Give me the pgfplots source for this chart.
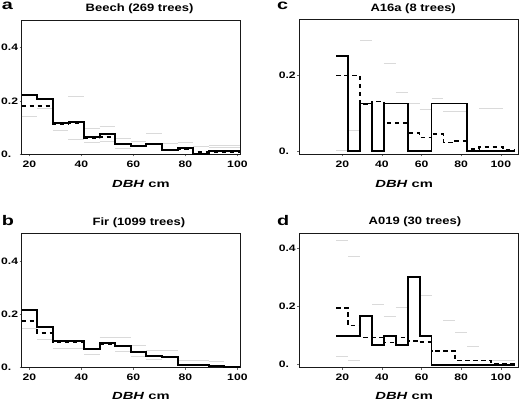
\documentclass[border=0pt]{standalone}
\usepackage{fontspec}
\setmainfont{Liberation Sans}[FakeStretch=1.3]
\newfontfamily\tickfont{Liberation Sans}[FakeStretch=1.3]
\newfontfamily\titlefont{Liberation Sans}[FakeStretch=1.22]
\newfontfamily\labfont{Liberation Sans}[FakeStretch=1.42]
\usepackage{pgfplots}
\pgfplotsset{compat=1.18}
\definecolor{bandgray}{RGB}{218,218,218}
\pgfplotsset{
  every axis title/.style={at={(0.5,1)}, anchor=base, yshift=8.3bp, inner sep=0pt,
    font=\titlefont\bfseries\fontsize{10.7}{12}\selectfont},
  panel/.style={
    scale only axis, anchor=south west,
    axis line style={black!90, line width=0.8bp},
    tick align=outside, major tick length=2bp,
    tick style={black!60, line width=0.5bp},
    xtick pos=bottom, ytick pos=left,
    xtick={20,40,60,80,100}, xticklabels={20,40,60,80,100},
    xticklabel style={font=\tickfont\bfseries\fontsize{9.4}{11}\selectfont, anchor=base, yshift=-11bp, inner sep=0pt},
    yticklabel style={font=\tickfont\bfseries\fontsize{9.4}{11}\selectfont, anchor=east, inner sep=0pt, xshift=-1.4bp},
    xlabel={\textit{DBH} cm},
    xlabel style={anchor=base, font=\labfont\bfseries\fontsize{10.4}{12}\selectfont, inner sep=0pt},
    clip=true,
  },
  solidh/.style={const plot, black, line width=1.9bp, line join=miter},
  dashh/.style={const plot, black, line width=1.6bp, dash pattern=on 4.5bp off 3.5bp},
  band/.style={bandgray, line width=0.9bp, unbounded coords=jump},
}
\begin{document}
\begin{tikzpicture}[x=1bp,y=1bp]
\useasboundingbox (0,0) rectangle (520,403);

% ---------- a: Beech ----------
\begin{axis}[panel, at={(21.7bp,248.7bp)}, width=218.3bp, height=134.3bp,
  xmin=17, xmax=101, ymin=0, ymax=0.504,
  ytick={0,0.2,0.4}, yticklabels={0.\phantom{0},0.2,0.4},
  title={Beech (269 trees)}, title style={at={(0.54,1)}},
  xlabel style={at={(0.546,0)}, yshift=-33bp}]
\addplot[band] coordinates {(17,0.143)(23,0.143)(23,nan)(23,0.172)(29,0.172)(29,nan)
 (29,0.091)(35,0.091)(35,nan)(35,0.216)(41,0.216)(41,nan)(35,0.054)(41,0.054)(41,nan)
 (41,0.097)(47,0.097)(47,nan)(41,0.045)(47,0.045)(47,nan)(47,0.103)(53,0.103)(53,nan)
 (47,0.047)(53,0.047)(53,nan)(53,0.060)(59,0.060)(59,nan)(53,0.022)(59,0.022)(59,nan)
 (59,0.050)(65,0.050)(65,nan)(59,0.028)(65,0.028)(65,nan)(65,0.079)(71,0.079)(71,nan)
 (71,0.040)(77,0.040)(77,nan)(77,0.045)(83,0.045)(83,nan)(83,0.030)(89,0.030)(89,nan)
 (89,0.035)(101,0.035)(101,nan)(89,0.026)(101,0.026)};
\addplot[dashh] coordinates {(17,0.182)(23,0.182)(29,0.114)(35,0.118)(41,0.062)(47,0.066)
 (53,0.0386)(59,0.0286)(65,0.037)(71,0.017)(77,0.019)(83,0.008)(89,0.008)(95,0.008)(101,0.008)};
\addplot[solidh] coordinates {(17,0.2225)(23,0.2075)(29,0.116)(35,0.12)(41,0.066)(47,0.076)
 (53,0.039)(59,0.0325)(65,0.039)(71,0.016)(77,0.0225)(83,0)(89,0.011)(95,0.011)(101,0.011)};
\end{axis}

% ---------- b: Fir ----------
\begin{axis}[panel, at={(21.7bp,35.3bp)}, width=218.3bp, height=134.4bp,
  xmin=17, xmax=101, ymin=0, ymax=0.504,
  ytick={0,0.2,0.4}, yticklabels={0.\phantom{0},0.2,0.4},
  title={Fir (1099 trees)}, title style={at={(0.537,1)}},
  xlabel style={at={(0.546,0)}, yshift=-31.8bp}]
\addplot[band] coordinates {(17,0.148)(23,0.148)(23,nan)(23,0.106)(29,0.106)(29,nan)
 (29,0.073)(41,0.073)(41,nan)(41,0.051)(47,0.051)(47,nan)(47,0.114)(59,0.114)(59,nan)
 (53,0.062)(59,0.062)(59,nan)(59,0.085)(65,0.085)(65,nan)(59,0.044)(65,0.044)(65,nan)
 (65,0.066)(77,0.066)(77,nan)(65,0.031)(71,0.031)(71,nan)(77,0.029)(89,0.029)(89,nan)
 (89,0.025)(95,0.025)};
\addplot[dashh] coordinates {(17,0.176)(23,0.131)(29,0.097)(35,0.097)(41,0.068)(47,0.088)
 (53,0.08)(59,0.058)(65,0.045)(71,0.038)(77,0.012)(83,0.009)(89,0.006)(95,0.003)(101,0.003)};
\addplot[solidh] coordinates {(17,0.216)(23,0.154)(29,0.1)(35,0.1)(41,0.07)(47,0.091)
 (53,0.0825)(59,0.06)(65,0.043)(71,0.039)(77,0.01)(83,0.01)(89,0.007)(95,0.003)(101,0.003)};
\end{axis}

% ---------- c: A16a ----------
\begin{axis}[panel, at={(299.3bp,248.6bp)}, width=219bp, height=135bp,
  xmin=-1.7, xmax=108.8, ymin=-0.008, ymax=0.345,
  ytick={0,0.2}, yticklabels={0.\phantom{0},0.2},
  title={A16a (8 trees)}, title style={at={(0.52,1)}},
  xlabel style={at={(0.479,0)}, yshift=-33.2bp}]
\addplot[band] coordinates {(17,0.003)(23,0.003)(23,nan)(23,0.054)(29,0.054)(29,nan)
 (29,0.291)(35,0.291)(35,nan)(41,0.23)(47,0.23)(47,nan)(47,0.155)(53,0.155)(53,nan)
 (53,0.124)(59,0.124)(59,nan)(59,0.11)(65,0.11)(65,nan)(65,0.139)(71,0.139)(71,nan)
 (71,0.104)(83,0.104)(83,nan)(89,0.113)(101,0.113)};
\addplot[dashh] coordinates {(17,0.198)(23,0.198)(29,0.122)(35,0.130)(41,0.074)(47,0.074)
 (53,0.048)(59,0.0366)(65,0.046)(71,0.0235)(77,0.027)(83,0.006)(89,0.012)(95,0.012)(101,0.004)(107,0.004)};
\addplot[solidh] coordinates {(17,0.25)(23,0)(29,0.125)(35,0)(41,0.125)(47,0.125)(53,0)(59,0)
 (65,0.125)(71,0.125)(77,0.125)(83,0)(89,0)(95,0)(101,0)(107,0)};
\end{axis}

% ---------- d: A019 ----------
\begin{axis}[panel, at={(299.3bp,35.3bp)}, width=219bp, height=134.4bp,
  xmin=-1.7, xmax=108.8, ymin=-0.0103, ymax=0.451,
  ytick={0,0.2,0.4}, yticklabels={0.\phantom{0},0.2,0.4},
  title={A019 (30 trees)}, title style={at={(0.528,1)}},
  xlabel style={at={(0.479,0)}, yshift=-31.8bp}]
\addplot[band] coordinates {(17,0.428)(23,0.428)(23,nan)(17,0.029)(23,0.029)(23,nan)
 (23,0.37)(29,0.37)(29,nan)(23,0.014)(29,0.014)(29,nan)(35,0.206)(41,0.206)(41,nan)
 (41,0.165)(47,0.165)(47,nan)(47,0.197)(53,0.197)(53,nan)(59,0.239)(65,0.239)(65,nan)
 (71,0.151)(77,0.151)(77,nan)(77,0.11)(83,0.11)(83,nan)(83,0.064)(89,0.064)(89,nan)
 (95,0.016)(107,0.016)};
\addplot[dashh] coordinates {(17,0.1945)(23,0.134)(29,0.094)(35,0.094)(41,0.076)(47,0.094)
 (53,0.082)(59,0.077)(65,0.048)(71,0.048)(77,0.014)(83,0.014)(89,0.014)(95,0.004)(101,0.004)(107,0.004)};
\addplot[solidh] coordinates {(17,0.1)(23,0.1)(29,0.1667)(35,0.0667)(41,0.1)(47,0.0667)
 (53,0.3)(59,0.1)(65,0)(71,0)(77,0)(83,0)(89,0)(95,0)(101,0)(107,0)};
\end{axis}

% panel letters
\node[anchor=base west, inner sep=0pt, font=\labfont\bfseries\fontsize{14}{16}\selectfont] at (1.7,393) {a};
\node[anchor=base west, inner sep=0pt, font=\labfont\bfseries\fontsize{14}{16}\selectfont] at (1.7,178) {b};
\node[anchor=base west, inner sep=0pt, font=\labfont\bfseries\fontsize{14}{16}\selectfont] at (277,393) {c};
\node[anchor=base west, inner sep=0pt, font=\labfont\bfseries\fontsize{14}{16}\selectfont] at (277,178) {d};
\end{tikzpicture}
\end{document}
